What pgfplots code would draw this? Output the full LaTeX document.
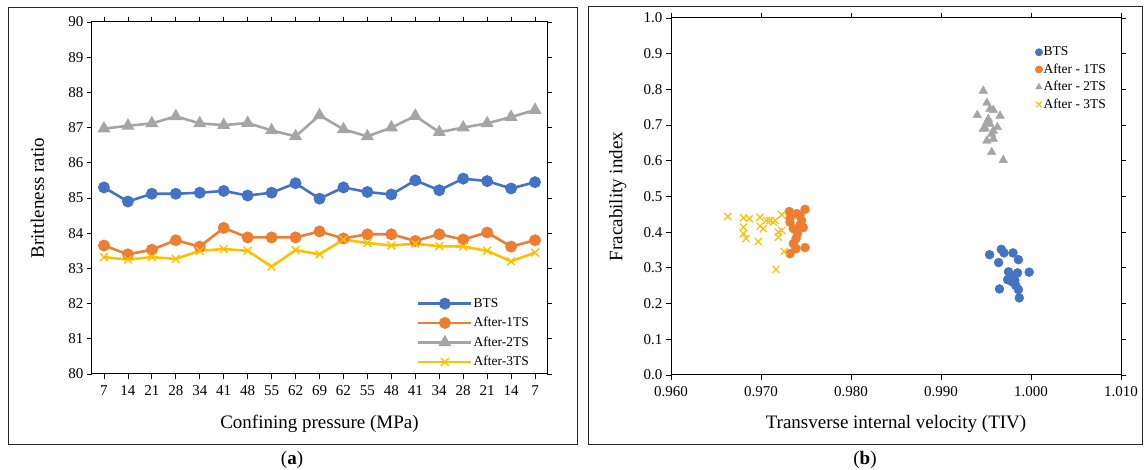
\documentclass[border=0pt]{standalone}
\usepackage{pgfplots}
\pgfplotsset{compat=1.18}
\usepackage{fontspec}
\setmainfont{Liberation Serif}
\definecolor{cBlue}{HTML}{4472C4}
\definecolor{cOrange}{HTML}{ED7D31}
\definecolor{cGray}{HTML}{A5A5A5}
\definecolor{cYellow}{HTML}{FFC000}
\begin{document}
\begin{tikzpicture}
\path[use as bounding box] (0pt,0pt) rectangle (1144pt,470pt);
\draw[line width=1pt,black!85] (8pt,25pt) rectangle (577pt,462pt);
\draw[line width=1pt,black!85] (588pt,25pt) rectangle (1142pt,463pt);
\node[font=\fontsize{19}{21}\selectfont] at (292pt,10pt) {(\textbf{a})};
\node[font=\fontsize{19}{21}\selectfont] at (865pt,10pt) {(\textbf{b})};

\begin{axis}[
  at={(92pt,96pt)}, anchor=south west, scale only axis,
  width=455pt, height=352pt,
  xmin=-0.5, xmax=18.5, ymin=80, ymax=90,
  xtick={0,...,18},
  xticklabels={7,14,21,28,34,41,48,55,62,69,62,55,48,41,34,28,21,14,7},
  ytick={80,81,...,90},
  tick align=outside, major tick length=5pt,
  tick style={black, line width=0.8pt},
  axis line style={black, line width=1pt},
  /pgf/number format/assume math mode=true,
  tick label style={font=\fontsize{15}{17}\selectfont},
  xticklabel style={yshift=-3pt},
  xlabel={Confining pressure (MPa)},
  ylabel={Brittleness ratio},
  every axis x label/.style={at={(axis description cs:0.5,-0.142)}, anchor=center, font=\fontsize{19}{21}\selectfont},
  every axis y label/.style={at={(axis description cs:-0.12,0.5)}, anchor=center, rotate=90, font=\fontsize{19}{21}\selectfont},
  legend style={at={(axis description cs:0.714,0.218)}, anchor=north west, draw=none, fill=none,
    font=\fontsize{13.5}{15}\selectfont, row sep=6.5pt, inner sep=0pt,
    nodes={inner sep=1pt, anchor=west}},
  legend cell align=left,
  legend image code/.code={\draw[mark repeat=2,mark phase=2,#1] plot coordinates {(0pt,0pt) (26.5pt,0pt) (53pt,0pt)};},
]
\addplot[cBlue, line width=2.6pt, mark=*, mark size=4.6pt, mark options={solid}] coordinates {
(0,85.30) (1,84.90) (2,85.12) (3,85.12) (4,85.15) (5,85.20) (6,85.07) (7,85.15) (8,85.42) (9,84.98)
(10,85.30) (11,85.17) (12,85.10) (13,85.50) (14,85.22) (15,85.55) (16,85.48) (17,85.27) (18,85.45)};
\addlegendentry{BTS}
\addplot[cOrange, line width=2.6pt, mark=*, mark size=4.6pt] coordinates {
(0,83.65) (1,83.40) (2,83.53) (3,83.80) (4,83.62) (5,84.15) (6,83.88) (7,83.88) (8,83.88) (9,84.05)
(10,83.85) (11,83.97) (12,83.97) (13,83.78) (14,83.97) (15,83.82) (16,84.02) (17,83.62) (18,83.80)};
\addlegendentry{After-1TS}
\addplot[cGray, line width=2.6pt, mark=triangle*, mark size=5pt] coordinates {
(0,86.97) (1,87.05) (2,87.12) (3,87.32) (4,87.12) (5,87.07) (6,87.13) (7,86.92) (8,86.75) (9,87.35)
(10,86.95) (11,86.75) (12,87.00) (13,87.33) (14,86.87) (15,87.00) (16,87.12) (17,87.30) (18,87.50)};
\addlegendentry{After-2TS}
\addplot[cYellow, line width=2.6pt, mark=x, mark size=5.5pt, mark options={line width=1.4pt}] coordinates {
(0,83.32) (1,83.25) (2,83.32) (3,83.27) (4,83.50) (5,83.55) (6,83.50) (7,83.05) (8,83.52) (9,83.40)
(10,83.82) (11,83.72) (12,83.65) (13,83.70) (14,83.63) (15,83.62) (16,83.50) (17,83.20) (18,83.45)};
\addlegendentry{After-3TS}
\end{axis}

\begin{axis}[
  at={(671pt,95pt)}, anchor=south west, scale only axis,
  width=450pt, height=357pt,
  xmin=0.96, xmax=1.01, ymin=0, ymax=1,
  xtick={0.96,0.97,0.98,0.99,1.00,1.01},
  ytick={0,0.1,0.2,0.3,0.4,0.5,0.6,0.7,0.8,0.9,1.0},
  scaled ticks=false,
  xticklabel style={/pgf/number format/fixed, /pgf/number format/fixed zerofill, /pgf/number format/precision=3, yshift=-3pt},
  yticklabel style={/pgf/number format/fixed, /pgf/number format/fixed zerofill, /pgf/number format/precision=1},
  tick align=outside, major tick length=5pt,
  tick style={black, line width=0.8pt},
  axis line style={black, line width=1pt},
  /pgf/number format/assume math mode=true,
  tick label style={font=\fontsize{15}{17}\selectfont},
  xlabel={Transverse internal velocity (TIV)},
  ylabel={Fracability index},
  every axis x label/.style={at={(axis description cs:0.5,-0.137)}, anchor=center, font=\fontsize{19}{21}\selectfont},
  every axis y label/.style={at={(axis description cs:-0.118,0.5)}, anchor=center, rotate=90, font=\fontsize{19}{21}\selectfont},
  legend style={at={(axis description cs:0.809,0.922)}, anchor=north west, draw=none, fill=none,
    font=\fontsize{13.5}{15}\selectfont, row sep=4.5pt, inner sep=0pt,
    nodes={inner sep=1pt, anchor=west}},
  legend cell align=left,
  legend image code/.code={\draw[#1, mark size=3.7pt] plot coordinates {(4pt,0pt)};},
]
\addplot[only marks, mark=*, mark size=4.5pt, color=cBlue] coordinates {
(0.9954,0.337) (0.9967,0.352) (0.9970,0.342) (0.9980,0.342) (0.9986,0.323) (0.9964,0.315)
(0.9975,0.289) (0.9985,0.286) (0.9998,0.288) (0.9974,0.267) (0.9979,0.261) (0.9982,0.265)
(0.9983,0.251) (0.9986,0.239) (0.9965,0.241) (0.9987,0.216) (0.9980,0.275)};
\addlegendentry{BTS}
\addplot[only marks, mark=*, mark size=4.5pt, color=cOrange] coordinates {
(0.97314,0.458) (0.97397,0.452) (0.97489,0.464) (0.97322,0.428) (0.97433,0.419) (0.97359,0.410)
(0.97452,0.433) (0.97404,0.396) (0.97389,0.382) (0.97359,0.368) (0.97489,0.357) (0.97322,0.340)
(0.97389,0.354) (0.97322,0.438) (0.97433,0.447) (0.97470,0.413)};
\addlegendentry{After - 1TS}
\addplot[only marks, mark=triangle*, mark size=5pt, color=cGray] coordinates {
(0.99470,0.796) (0.99510,0.762) (0.99544,0.745) (0.99581,0.742) (0.99403,0.728) (0.99656,0.726)
(0.99510,0.708) (0.99544,0.703) (0.99626,0.694) (0.99489,0.691) (0.99581,0.684) (0.99526,0.717)
(0.99470,0.689) (0.99563,0.675) (0.99581,0.661) (0.99510,0.656) (0.99563,0.624) (0.99692,0.602)};
\addlegendentry{After - 2TS}
\addplot[only marks, mark=x, mark size=5pt, color=cYellow, mark options={line width=1.2pt}] coordinates {
(0.96630,0.444) (0.96804,0.440) (0.96870,0.438) (0.96989,0.442) (0.97100,0.433) (0.97156,0.433)
(0.97230,0.449) (0.96804,0.414) (0.96989,0.417) (0.97026,0.410) (0.97193,0.400) (0.97230,0.405)
(0.96804,0.396) (0.96833,0.382) (0.96970,0.374) (0.97193,0.386) (0.97259,0.346) (0.97167,0.296)
(0.97063,0.433) (0.97137,0.428)};
\addlegendentry{After - 3TS}
\end{axis}
\end{tikzpicture}
\end{document}
